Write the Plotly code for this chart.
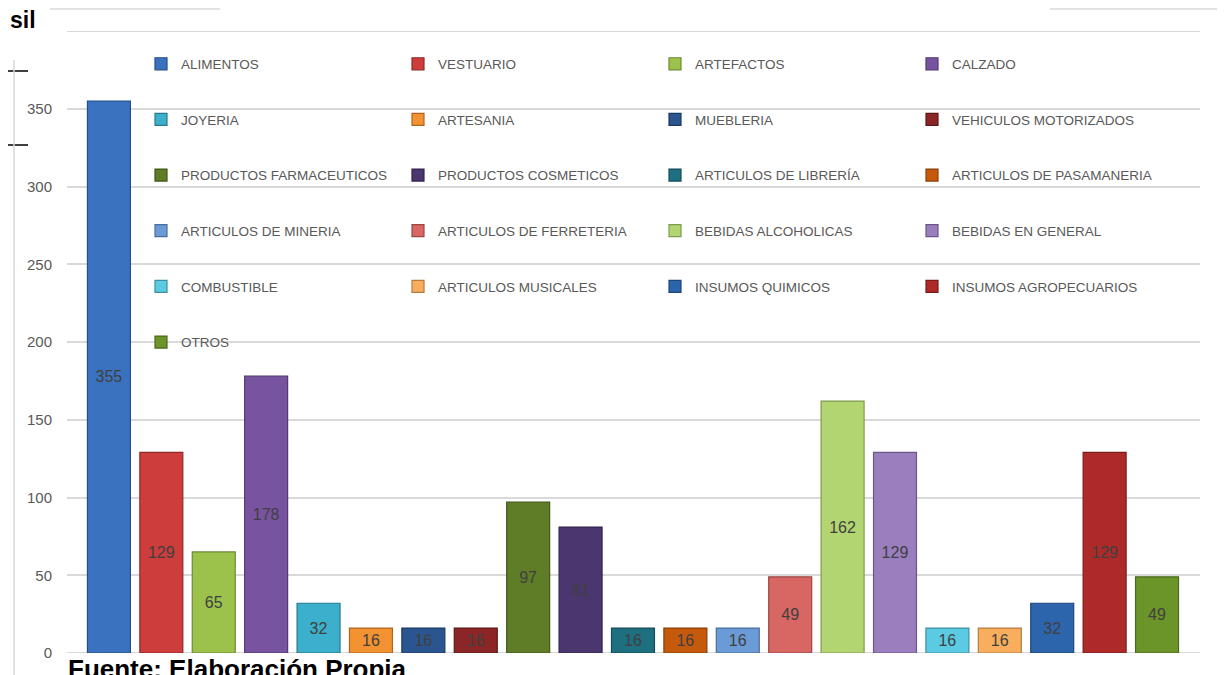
import plotly.graph_objects as go

categories = [
    "ALIMENTOS", "VESTUARIO", "ARTEFACTOS", "CALZADO",
    "JOYERIA", "ARTESANIA", "MUEBLERIA", "VEHICULOS MOTORIZADOS",
    "PRODUCTOS FARMACEUTICOS", "PRODUCTOS COSMETICOS", "ARTICULOS DE LIBRERÍA", "ARTICULOS DE PASAMANERIA",
    "ARTICULOS DE MINERIA", "ARTICULOS DE FERRETERIA", "BEBIDAS ALCOHOLICAS", "BEBIDAS EN GENERAL",
    "COMBUSTIBLE", "ARTICULOS MUSICALES", "INSUMOS QUIMICOS", "INSUMOS AGROPECUARIOS",
    "OTROS",
]
values = [355, 129, 65, 178, 32, 16, 16, 16, 97, 81, 16, 16, 16, 49, 162, 129, 16, 16, 32, 129, 49]
colors = [
    "#3A72BF", "#CC3D3B", "#9CC24C", "#7853A0",
    "#3BAFCB", "#F39230", "#2B558E", "#8C2526",
    "#5F7D26", "#4C3670", "#1E6F80", "#C65A0C",
    "#6B9BD6", "#D86662", "#B3D571", "#9A7EBE",
    "#5BCBE3", "#F9AE5E", "#2D65AC", "#AE2A28",
    "#6C9529",
]
edge_colors = [
    "#254E86", "#8E2A29", "#6D8A33", "#523870",
    "#28798E", "#B0651F", "#1B3A63", "#5E1819",
    "#41561A", "#33244D", "#144C58", "#8A3E08",
    "#4A6E9C", "#9A4744", "#7E9A4C", "#6B5786",
    "#3E8FA0", "#B57C40", "#1F4678", "#781C1B",
    "#4B681C",
]
y_ticks = [0, 50, 100, 150, 200, 250, 300, 350]

FONT = "Liberation Sans, Arial, sans-serif"

# the page adds an 8px body margin; work in screenshot pixels and convert
OFF = 8
W, H = 1225 - OFF, 675 - OFF
PLOT_L, PLOT_R, PLOT_T, PLOT_B = 67, 1200, 31, 653  # screenshot pixels
ML = PLOT_L - OFF
MT = PLOT_T - OFF
PW = PLOT_R - PLOT_L
PH = PLOT_B - PLOT_T
MR = W - ML - PW
MB = H - MT - PH


def px_x(p):
    return (p - PLOT_L) / PW


def px_y(p):
    return (PLOT_B - p) / PH


fig = go.Figure()
for cat, val, col, ec in zip(categories, values, colors, edge_colors):
    fig.add_trace(go.Bar(
        x=[cat], y=[val],
        name=cat + "<br> <br> ",
        marker=dict(color=col, line=dict(color=ec, width=1.2)),
        width=0.82,
        text=[str(val)],
        textposition="inside",
        insidetextanchor="middle",
        constraintext="none",
        textangle=0,
        textfont=dict(family=FONT, size=16, color="#404040"),
        cliponaxis=False,
    ))

fig.update_layout(
    width=W, height=H,
    margin=dict(l=ML, r=MR, t=MT, b=MB, autoexpand=False),
    paper_bgcolor="white", plot_bgcolor="white",
    barmode="overlay",
    showlegend=True,
    legend=dict(
        orientation="h",
        x=px_x(141), y=px_y(48.5), xanchor="left", yanchor="top",
        entrywidth=212, entrywidthmode="pixels",
        maxheight=1,
        font=dict(family=FONT, size=13.5, color="#595959"),
        bgcolor="rgba(0,0,0,0)",
        traceorder="normal",
        valign="top",
    ),
    xaxis=dict(
        type="category", categoryorder="array", categoryarray=categories,
        range=[-0.8, 20.82], showticklabels=False, showgrid=False,
        zeroline=False, showline=False, ticks="",
    ),
    yaxis=dict(
        range=[0, 400], tickvals=y_ticks,
        showgrid=True, gridcolor="#D9D9D9", gridwidth=1.8,
        zeroline=False, showline=False, ticks="",
        ticklabelstandoff=14,
        tickfont=dict(family=FONT, size=15, color="#595959"),
    ),
)

# top gridline at 400 and baseline
for yv in (400, 0):
    fig.add_shape(type="line", xref="paper", yref="y", x0=0, x1=1, y0=yv, y1=yv,
                  line=dict(color="#D9D9D9", width=1.8), layer="below")

# page decorations around the cropped chart (screenshot pixels)
deco = [
    (8, 71, 28, 71, "black", 1.5),
    (8, 145, 28, 145, "black", 1.5),
    (14, 60, 14, 675, "#D9D9D9", 1.5),
    (50, 9, 220, 9, "#D9D9D9", 1.5),
    (1050, 9, 1220, 9, "#D9D9D9", 1.5),
    (1220, 9, 1220, 675, "#D9D9D9", 1.5),
]
for x0, y0, x1, y1, c, w in deco:
    fig.add_shape(type="line", xref="paper", yref="paper",
                  x0=px_x(x0), y0=px_y(y0), x1=px_x(x1), y1=px_y(y1),
                  line=dict(color=c, width=w))

fig.add_annotation(text="<b>sil</b>", xref="paper", yref="paper",
                   x=px_x(8), y=px_y(20), xanchor="left", yanchor="middle",
                   showarrow=False, font=dict(family=FONT, size=23, color="black"))
fig.add_annotation(text="<b>Fuente: Elaboración Propia</b>", xref="paper", yref="paper",
                   x=px_x(66), y=px_y(652), xanchor="left", yanchor="top",
                   showarrow=False, font=dict(family=FONT, size=26, color="black"))

fig.write_html("out.html")
